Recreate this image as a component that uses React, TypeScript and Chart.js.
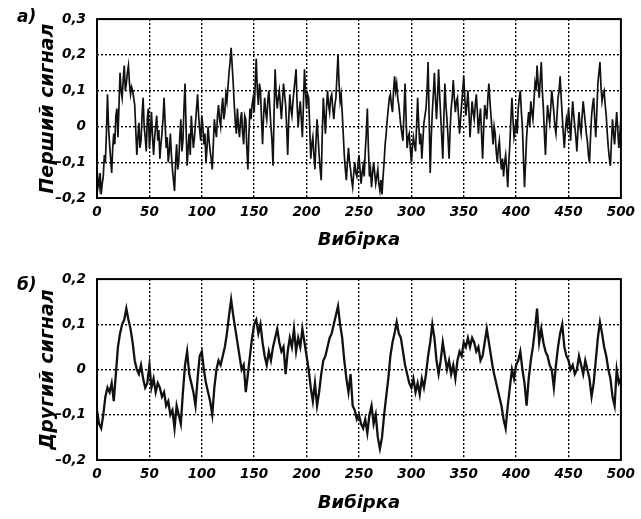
import React, { useEffect, useRef } from "react";
import { Chart, registerables } from "chart.js";

Chart.register(...registerables);

// sample step between stored values (sample index = i * step)
const TOP_STEP = 1;
const BOTTOM_STEP = 2;

const TOP_VALUES = [
  -0.12, -0.15, -0.17, -0.13, -0.19, -0.16, -0.14, -0.08, -0.1, -0.02, 0.09, 0.0, -0.05, -0.09, -0.13, -0.06, -0.02, -0.05, 0.03, 0.05,
  -0.03, 0.06, 0.15, 0.1, 0.08, 0.13, 0.17, 0.1, 0.12, 0.15, 0.17, 0.12, 0.09, 0.11, 0.1, 0.08, 0.06, -0.01, -0.08, -0.03,
  0.01, -0.06, -0.04, 0.03, 0.08, 0.0, -0.03, -0.07, 0.02, 0.05, -0.06, -0.02, 0.04, -0.03, -0.08, -0.03, 0.0, 0.03, -0.04, -0.01,
  -0.09, -0.05, -0.02, 0.02, 0.08, 0.01, -0.06, -0.03, -0.1, -0.07, -0.02, -0.08, -0.12, -0.15, -0.18, -0.1, -0.05, -0.12, -0.1, -0.03,
  0.02, -0.07, -0.04, 0.05, 0.12, 0.0, -0.11, -0.06, -0.02, -0.08, 0.03, -0.02, -0.06, -0.03, 0.01, 0.05, 0.09, 0.03, -0.01, -0.04,
  0.03, 0.0, -0.05, -0.02, -0.1, -0.06, 0.0, -0.04, -0.07, -0.09, -0.12, -0.05, 0.02, -0.01, -0.03, 0.03, 0.06, 0.02, 0.0, 0.05,
  0.08, 0.02, 0.04, 0.09, 0.07, 0.11, 0.15, 0.18, 0.22, 0.17, 0.12, 0.06, 0.01, -0.02, 0.05, 0.0, -0.03, 0.02, 0.04, -0.02,
  -0.05, 0.03, 0.02, -0.06, -0.12, -0.02, 0.05, 0.02, 0.06, 0.08, 0.04, 0.12, 0.19, 0.1, 0.06, 0.12, 0.1, 0.02, -0.05, 0.03,
  0.08, 0.04, 0.02, 0.07, 0.1, 0.05, 0.0, -0.04, -0.11, 0.04, 0.16, 0.09, 0.05, 0.08, 0.1, 0.06, 0.02, 0.07, 0.12, 0.09,
  0.06, 0.0, -0.08, 0.02, 0.09, 0.05, 0.03, 0.07, 0.1, 0.13, 0.16, 0.06, 0.0, 0.04, 0.07, 0.02, -0.03, 0.06, 0.16, 0.1,
  0.05, 0.09, 0.08, 0.0, -0.09, -0.05, -0.03, -0.08, -0.12, -0.04, 0.02, -0.03, -0.08, -0.12, -0.15, -0.02, 0.08, 0.03, -0.02, 0.05,
  0.1, 0.06, 0.04, 0.08, 0.09, 0.05, 0.02, 0.06, 0.08, 0.14, 0.2, 0.12, 0.07, 0.09, 0.04, -0.02, -0.08, -0.12, -0.15, -0.1,
  -0.06, -0.1, -0.12, -0.15, -0.17, -0.13, -0.1, -0.13, -0.14, -0.11, -0.08, -0.12, -0.16, -0.13, -0.11, -0.14, -0.07, -0.02, 0.05, -0.06,
  -0.14, -0.12, -0.17, -0.13, -0.1, -0.13, -0.16, -0.14, -0.12, -0.16, -0.18, -0.15, -0.19, -0.14, -0.1, -0.05, -0.02, 0.02, 0.05, 0.08,
  0.09, 0.06, 0.04, 0.1, 0.14, 0.1, 0.12, 0.08, 0.06, 0.03, 0.0, -0.02, -0.04, 0.04, 0.12, 0.02, -0.06, -0.03, -0.02, -0.06,
  -0.1, -0.06, -0.03, -0.05, -0.07, 0.0, 0.08, 0.01, -0.05, -0.02, -0.09, -0.04, 0.01, 0.03, 0.05, 0.1, 0.18, 0.02, -0.13, -0.03,
  0.04, 0.09, 0.15, 0.08, 0.02, 0.08, 0.16, 0.09, 0.03, -0.03, -0.09, 0.02, 0.12, 0.06, 0.02, -0.03, -0.09, -0.01, 0.05, 0.08,
  0.13, 0.08, 0.04, 0.07, 0.08, 0.03, -0.02, 0.02, 0.06, 0.1, 0.14, 0.08, 0.03, 0.06, 0.1, 0.04, -0.03, 0.02, 0.07, 0.04,
  0.02, 0.06, 0.09, 0.04, -0.02, 0.02, 0.05, -0.02, -0.09, -0.01, 0.06, 0.04, 0.02, 0.08, 0.12, 0.07, 0.03, -0.01, -0.05, 0.0,
  -0.02, -0.07, -0.1, -0.06, -0.04, -0.09, -0.12, -0.09, -0.14, -0.1, -0.08, -0.12, -0.17, -0.1, -0.05, 0.02, 0.08, 0.02, -0.03, -0.01,
  0.02, -0.02, 0.05, 0.08, 0.1, 0.04, 0.0, -0.09, -0.17, -0.1, -0.03, 0.01, 0.04, 0.0, 0.07, 0.04, 0.02, 0.07, 0.12, 0.1,
  0.17, 0.12, 0.08, 0.13, 0.18, 0.1, 0.05, -0.02, -0.08, 0.0, 0.06, 0.03, 0.01, 0.05, 0.1, 0.07, 0.04, 0.0, -0.02, 0.03,
  0.08, 0.1, 0.14, 0.08, 0.03, -0.02, -0.06, -0.01, 0.02, 0.0, 0.05, 0.01, -0.04, 0.02, 0.07, 0.03, 0.0, -0.03, -0.07, -0.01,
  0.04, 0.0, -0.02, 0.03, 0.07, 0.04, 0.01, -0.02, -0.04, -0.08, -0.1, -0.03, 0.03, 0.06, 0.08, 0.02, -0.03, 0.04, 0.12, 0.15,
  0.18, 0.11, 0.07, 0.09, 0.1, 0.06, 0.03, -0.02, -0.06, -0.09, -0.11, -0.04, 0.02, -0.02, -0.05, 0.0, 0.04, -0.01, -0.06, -0.02,
  0.02,
];

const BOTTOM_VALUES = [
  -0.09, -0.12, -0.13, -0.1, -0.06, -0.04, -0.05, -0.03, -0.07, -0.01,
  0.05, 0.08, 0.1, 0.11, 0.135, 0.11, 0.09, 0.06, 0.02, 0.0,
  -0.01, 0.01, -0.02, -0.04, -0.03, 0.01, -0.04, -0.02, -0.05, -0.03,
  -0.04, -0.06, -0.05, -0.08, -0.07, -0.1, -0.09, -0.13, -0.08, -0.1,
  -0.12, -0.05, 0.01, 0.04, -0.01, -0.03, -0.05, -0.08, -0.02, 0.03,
  0.04, 0.0, -0.03, -0.05, -0.07, -0.1, -0.04, 0.0, 0.02, 0.01,
  0.03, 0.05, 0.08, 0.12, 0.155, 0.12, 0.09, 0.06, 0.03, 0.0,
  0.01, -0.05, -0.01, 0.03, 0.07, 0.1, 0.11, 0.08, 0.1, 0.06,
  0.03, 0.01, 0.04, 0.02, 0.05, 0.07, 0.09, 0.06, 0.04, 0.05,
  -0.01, 0.04, 0.07, 0.05, 0.09, 0.04, 0.07, 0.05, 0.09, 0.06,
  0.03, 0.0, -0.04, -0.07, -0.03, -0.08, -0.05, -0.01, 0.02, 0.03,
  0.05, 0.07, 0.08, 0.1, 0.12, 0.14, 0.1, 0.07, 0.02, -0.02,
  -0.05, -0.01, -0.08, -0.09, -0.11, -0.1, -0.12, -0.13, -0.11, -0.14,
  -0.1, -0.08, -0.12, -0.1, -0.15, -0.175, -0.15, -0.1, -0.06, -0.02,
  0.03, 0.06, 0.08, 0.105, 0.08, 0.07, 0.04, 0.01, -0.01, -0.03,
  -0.04, -0.02, -0.05, -0.03, -0.055, -0.02, -0.04, -0.01, 0.03, 0.06,
  0.1, 0.07, 0.02, -0.01, 0.02, 0.06, 0.03, 0.0, 0.02, -0.01,
  0.01, -0.02, 0.02, 0.04, 0.03, 0.06, 0.05, 0.07, 0.05, 0.07,
  0.06, 0.04, 0.05, 0.02, 0.03, 0.06, 0.09, 0.06, 0.03, 0.0,
  -0.02, -0.04, -0.06, -0.08, -0.11, -0.13, -0.08, -0.04, 0.0, -0.02,
  0.01, 0.02, 0.04, 0.0, -0.03, -0.08, -0.02, 0.02, 0.05, 0.09,
  0.135, 0.06, 0.09, 0.06, 0.04, 0.03, 0.01, 0.0, -0.04, 0.01,
  0.05, 0.08, 0.1, 0.05, 0.03, 0.02, 0.0, 0.01, -0.01, 0.0,
  0.03, 0.01, -0.01, 0.02, 0.0, -0.02, -0.06, -0.03, 0.02, 0.07,
  0.105, 0.08, 0.05, 0.03, 0.0, -0.02, -0.06, -0.08, 0.0, -0.03,
  -0.02,
];

const X_TICK_LABELS = ["0", "50", "100", "150", "200", "250", "300", "350", "400", "450", "500"];
const Y_TICK_LABELS_TOP = ["–0,2", "–0,1", "0", "0,1", "0,2", "0,3"];
const Y_TICK_LABELS_BOTTOM = ["–0,2", "–0,1", "0", "0,1", "0,2"];

const X_TITLE = "Вибірка";
const Y_TITLE_TOP = "Перший сигнал";
const Y_TITLE_BOTTOM = "Другий сигнал";
const PANEL_LABELS = ["а)", "б)"];

const FONT = "'DejaVu Sans', 'Liberation Sans', sans-serif";

const framePlugin = {
  id: "frame",
  afterDraw(chart: any) {
    const { ctx, chartArea } = chart;
    const { left, top, right, bottom } = chartArea;
    ctx.save();
    ctx.strokeStyle = "#000";
    ctx.lineWidth = 2;
    ctx.strokeRect(left, top, right - left, bottom - top);
    ctx.restore();
  },
};

type PanelProps = {
  values: number[];
  step: number;
  yMin: number;
  yMax: number;
  yLabels: string[];
  yTitle: string;
  width: number;
  height: number;
  padRight: number;
  xAxisHeight: number;
  lineWidth: number;
  titleBottomPad: number;
};

function Panel(props: PanelProps) {
  const ref = useRef<HTMLCanvasElement | null>(null);
  useEffect(() => {
    if (!ref.current) return;
    const pts = props.values.map((v, i) => ({ x: i * props.step, y: v }));
    const tickFont = { family: FONT, size: 13.5, weight: "bold" as const, style: "italic" as const };
    const chart = new Chart(ref.current, {
      type: "line",
      data: {
        datasets: [
          {
            data: pts,
            borderColor: "#111",
            borderWidth: props.lineWidth,
            pointRadius: 0,
            tension: 0,
          },
        ],
      },
      options: {
        animation: false,
        responsive: false,
        events: [],
        layout: { padding: { left: 0, right: props.padRight, top: 19, bottom: 0 } },
        plugins: { legend: { display: false }, tooltip: { enabled: false } },
        scales: {
          x: {
            type: "linear",
            min: 0,
            max: 500,
            afterFit: (s: any) => {
              s.height = props.xAxisHeight;
            },
            ticks: {
              stepSize: 50,
              color: "#000",
              font: tickFont,
              padding: 6,
              maxRotation: 0,
              callback: (v: any, i: number) => X_TICK_LABELS[i] ?? "",
            },
            grid: { color: "#000", lineWidth: 1.4, drawTicks: false },
            border: { display: false, dash: [2, 2] },
            title: {
              display: true,
              text: X_TITLE,
              color: "#000",
              font: { family: FONT, size: 18, weight: "bold", style: "italic" },
              padding: { top: 0, bottom: props.titleBottomPad },
            },
          },
          y: {
            type: "linear",
            min: props.yMin,
            max: props.yMax,
            afterFit: (s: any) => {
              s.width = 97;
            },
            ticks: {
              stepSize: 0.1,
              color: "#000",
              font: tickFont,
              padding: 11,
              callback: (v: any, i: number) => props.yLabels[i] ?? "",
            },
            grid: { color: "#000", lineWidth: 1.4, drawTicks: false },
            border: { display: false, dash: [2, 2] },
            title: {
              display: true,
              text: props.yTitle,
              color: "#000",
              font: { family: FONT, size: 19, weight: "bold", style: "italic" },
              padding: { top: 37, bottom: 0 },
            },
          },
        },
      },
      plugins: [framePlugin],
    });
    return () => chart.destroy();
  }, []);
  return <canvas ref={ref} width={props.width} height={props.height} style={{ display: "block" }} />;
}

const labelStyle: React.CSSProperties = {
  position: "absolute",
  left: 17,
  font: `italic bold 17px ${FONT}`,
  lineHeight: "17px",
  color: "#000",
};

export default function App() {
  return (
    <div style={{ position: "absolute", left: 0, top: 0, width: 641, height: 519, background: "#fff" }}>
      <div style={{ position: "absolute", left: 0, top: 0 }}>
        <Panel
          values={TOP_VALUES}
          step={TOP_STEP}
          yMin={-0.2}
          yMax={0.3}
          yLabels={Y_TICK_LABELS_TOP}
          yTitle={Y_TITLE_TOP}
          width={641}
          height={255}
          padRight={16.5}
          xAxisHeight={57}
          lineWidth={1.7}
          titleBottomPad={4}
        />
      </div>
      <div style={{ position: "absolute", left: 0, top: 260 }}>
        <Panel
          values={BOTTOM_VALUES}
          step={BOTTOM_STEP}
          yMin={-0.2}
          yMax={0.2}
          yLabels={Y_TICK_LABELS_BOTTOM}
          yTitle={Y_TITLE_BOTTOM}
          width={641}
          height={259}
          padRight={18}
          xAxisHeight={59}
          lineWidth={2.3}
          titleBottomPad={5}
        />
      </div>
      <span style={{ ...labelStyle, top: 8 }}>{PANEL_LABELS[0]}</span>
      <span style={{ ...labelStyle, top: 276 }}>{PANEL_LABELS[1]}</span>
    </div>
  );
}
